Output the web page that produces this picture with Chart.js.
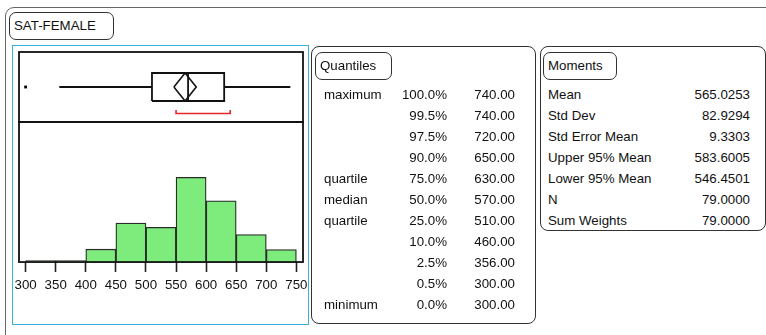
<!DOCTYPE html>
<html>
<head>
<meta charset="utf-8">
<script src="https://cdn.jsdelivr.net/npm/chart.js@4.4.1/dist/chart.umd.min.js"></script>
<style>
  body { margin:0; width:766px; height:335px; overflow:hidden; background:#fff;
         font-family:"Liberation Sans", Arial, sans-serif; font-size:13.3px; color:#111; position:relative; }
  .box { position:absolute; box-sizing:border-box; }
  #outer { left:5px; top:7px; width:820px; height:400px; border:1.5px solid #666; border-radius:9px; }
  .tag { position:absolute; box-sizing:border-box; border:1px solid #333; border-radius:7px; padding-left:4px; }
  #blue { left:12px; top:45px; width:297px; height:280px; border:1.5px solid #3ab0e2; }
  .panel { position:absolute; box-sizing:border-box; border:1px solid #333; border-radius:8px; }
  .cell { position:absolute; height:21px; line-height:21px; white-space:nowrap; }
  canvas { position:absolute; }
</style>
</head>
<body>
<div id="outer" class="box"></div>
<div class="tag" style="left:9px;top:12px;width:105px;height:28px;line-height:26px;">SAT-FEMALE</div>
<div id="blue" class="box"></div>
<canvas id="boxplot" width="304" height="90" style="left:9px;top:42px;"></canvas>
<canvas id="hist" width="304" height="186" style="left:9px;top:112px;"></canvas>

<div class="panel" style="left:311px;top:46px;width:225px;height:278px;"></div>
<div class="tag" style="left:315px;top:52px;width:77px;height:28px;line-height:26px;">Quantiles</div>
<div class="panel" style="left:540px;top:46px;width:226px;height:185px;"></div>
<div class="tag" style="left:543px;top:52px;width:74px;height:28px;line-height:26px;">Moments</div>
<div id="tables"></div>

<script>
// histogram bins (lower edges, width 50) and bar heights
const binStarts = [300, 350, 400, 450, 500, 550, 600, 650, 700];
const binCounts = [0.35, 0.35, 3, 9.1, 8.1, 19.8, 14.3, 6.4, 2.9];
const tickValues = [300, 350, 400, 450, 500, 550, 600, 650, 700, 750];

// quantiles table
const quantileNames = ['maximum', '', '', '', 'quartile', 'median', 'quartile', '', '', '', 'minimum'];
const quantileLevels = ['100.0%', '99.5%', '97.5%', '90.0%', '75.0%', '50.0%', '25.0%', '10.0%', '2.5%', '0.5%', '0.0%'];
const quantileValues = [740, 740, 720, 650, 630, 570, 510, 460, 356, 300, 300];

// moments table
const momentNames = ['Mean', 'Std Dev', 'Std Error Mean', 'Upper 95% Mean', 'Lower 95% Mean', 'N', 'Sum Weights'];
const momentValues = [565.0253, 82.9294, 9.3303, 583.6005, 546.4501, 79, 79];

// box plot pieces
const whiskerLow = 356, whiskerHigh = 740;
const outliers = [300];
const shortestHalf = [550, 640];

const q1 = quantileValues[6], med = quantileValues[5], q3 = quantileValues[4];
const mean = momentValues[0], ciHigh = momentValues[3], ciLow = momentValues[4];

// tables
const tables = document.getElementById('tables');
function cell(text, left, top, right) {
  const d = document.createElement('div');
  d.className = 'cell';
  d.textContent = text;
  d.style.top = top + 'px';
  if (right) { d.style.right = (766 - left) + 'px'; d.style.textAlign = 'right'; }
  else d.style.left = left + 'px';
  tables.appendChild(d);
}
quantileNames.forEach((n, i) => {
  const top = 84 + 21 * i;
  if (n) cell(n, 324, top);
  cell(quantileLevels[i], 447, top, true);
  cell(quantileValues[i].toFixed(2), 515, top, true);
});
momentNames.forEach((n, i) => {
  const top = 84 + 21 * i;
  cell(n, 548, top);
  cell(momentValues[i].toFixed(4), 750, top, true);
});

// frame around the plot area
const framePlugin = {
  id: 'frame',
  afterDraw(chart) {
    const a = chart.chartArea, ctx = chart.ctx;
    ctx.save();
    ctx.strokeStyle = '#111';
    ctx.lineWidth = 1.8;
    ctx.strokeRect(a.left, a.top, a.right - a.left, a.bottom - a.top);
    ctx.restore();
  }
};

const xMin = 289, xMax = 761;

// box plot: y is only a layout axis (0..70)
const mid = 35, hi = 49, lo = 21, brY = 8.5, brTip = 12;
const line = (data, color, width) => ({
  data, showLine: true, borderColor: color, borderWidth: width, pointRadius: 0, fill: false, tension: 0
});
new Chart(document.getElementById('boxplot'), {
  type: 'scatter',
  data: {
    datasets: [
      line([{x: whiskerLow, y: mid}, {x: q1, y: mid}], '#111', 1.8),
      line([{x: q3, y: mid}, {x: whiskerHigh, y: mid}], '#111', 1.8),
      line([{x: q1, y: lo}, {x: q3, y: lo}, {x: q3, y: hi}, {x: q1, y: hi}, {x: q1, y: lo}], '#111', 1.8),
      line([{x: med, y: lo}, {x: med, y: hi}], '#111', 1.8),
      line([{x: ciLow, y: mid}, {x: mean, y: hi}, {x: ciHigh, y: mid}, {x: mean, y: lo}, {x: ciLow, y: mid}], '#111', 1.6),
      line([{x: shortestHalf[0], y: brTip}, {x: shortestHalf[0], y: brY}, {x: shortestHalf[1], y: brY}, {x: shortestHalf[1], y: brTip}], '#e8262a', 1.6),
      { data: outliers.map(v => ({x: v, y: mid})), pointStyle: 'rect', pointRadius: 2,
        backgroundColor: '#000', borderWidth: 0 }
    ]
  },
  options: {
    responsive: false, animation: false, devicePixelRatio: 1,
    layout: { padding: { left: 10, right: 10, top: 10, bottom: 10 } },
    plugins: { legend: { display: false }, tooltip: { enabled: false } },
    scales: {
      x: { type: 'linear', min: xMin, max: xMax, display: false },
      y: { type: 'linear', min: 0, max: 70, display: false }
    }
  },
  plugins: [framePlugin]
});

// histogram
new Chart(document.getElementById('hist'), {
  type: 'bar',
  data: {
    datasets: [{
      data: binStarts.map((s, i) => ({x: s + 25, y: binCounts[i]})),
      backgroundColor: '#7eec7c',
      borderColor: '#2a2a2a',
      borderWidth: 1.3,
      borderSkipped: 'bottom',
      barPercentage: 1,
      categoryPercentage: 1
    }]
  },
  options: {
    responsive: false, animation: false, devicePixelRatio: 1,
    layout: { padding: { left: 10, right: 10, top: 10, bottom: 0 } },
    plugins: { legend: { display: false }, tooltip: { enabled: false } },
    scales: {
      x: {
        type: 'linear', min: xMin, max: xMax, offset: false,
        afterBuildTicks: s => { s.ticks = tickValues.map(v => ({value: v})); },
        grid: { display: true, offset: false, drawOnChartArea: false, drawTicks: true,
                tickLength: 10, tickWidth: 1.6, tickColor: '#222' },
        border: { display: false },
        ticks: { padding: 5, color: '#111', maxRotation: 0, autoSkip: false,
                 font: { family: 'Liberation Sans', size: 13.3 } }
      },
      y: { type: 'linear', min: 0, max: 32.7, display: false }
    }
  },
  plugins: [framePlugin]
});
</script>
</body>
</html>
